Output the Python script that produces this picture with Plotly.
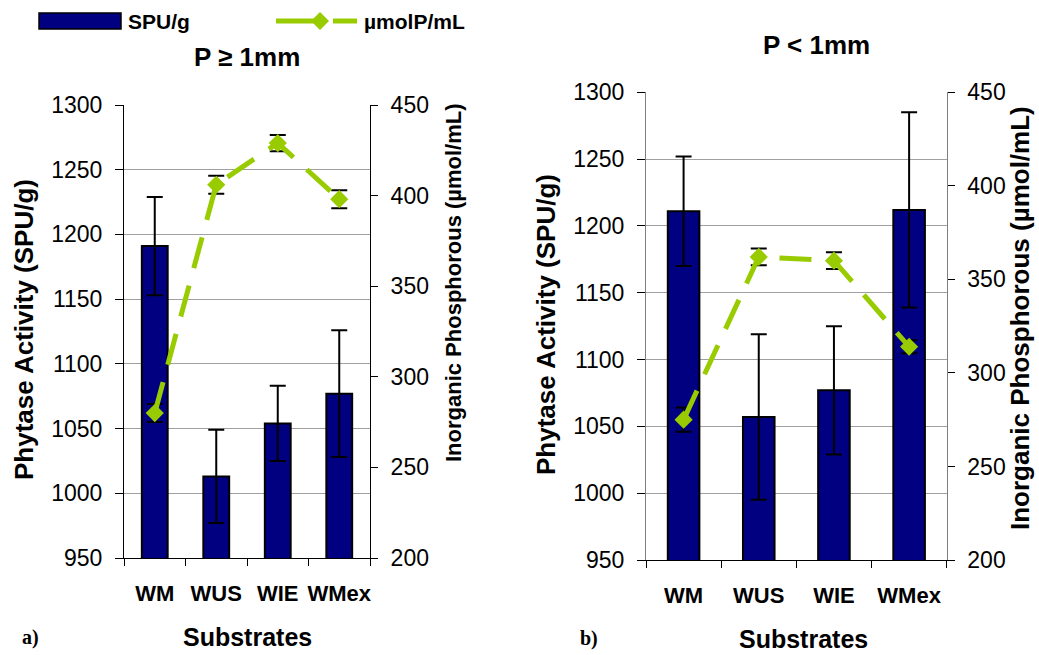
import plotly.graph_objects as go

# ---- data ----
substrates = ["WM", "WUS", "WIE", "WMex"]

# panel a) particle size P >= 1mm
spu_a = [1191, 1013, 1054, 1077]
spu_a_err = [38, 36, 29, 49]
pi_a = [280, 406, 429, 398]
pi_a_err = [5, 5, 4.5, 5]

# panel b) particle size P < 1mm
spu_b = [1211, 1057, 1077, 1212]
spu_b_err = [41, 62, 48, 73]
pi_b = [275, 362, 360, 314]
pi_b_err = [6.5, 4.5, 4.5, 3.5]

spu_ticks = [950, 1000, 1050, 1100, 1150, 1200, 1250, 1300]
pi_ticks = [200, 250, 300, 350, 400, 450]

# ---- styling ----
W, H = 1039, 655
NAVY = "#000080"
GREEN = "#99CC00"
SANS = "Liberation Sans, Arial, sans-serif"
SERIF = "Liberation Serif, Times New Roman, serif"


def px(x):
    return x / W


def py(y):
    return 1 - y / H


fig = go.Figure()


def add_panel(xa, ya, ya2, spu, spu_err, pi, pi_err):
    fig.add_trace(go.Bar(
        x=substrates, y=spu, xaxis=xa, yaxis=ya, width=0.42,
        marker=dict(color=NAVY, line=dict(color="black", width=2)),
        error_y=dict(type="data", array=spu_err, visible=True,
                     color="black", thickness=2, width=8),
        showlegend=False,
    ))
    fig.add_trace(go.Scatter(
        x=substrates, y=pi, xaxis=xa, yaxis=ya2, mode="lines+markers",
        line=dict(color=GREEN, width=5, dash="32px,18px"),
        marker=dict(symbol="diamond", size=14, color=GREEN),
        error_y=dict(type="data", array=pi_err, visible=True,
                     color="black", thickness=2, width=8),
        showlegend=False,
    ))


add_panel("x", "y", "y2", spu_a, spu_a_err, pi_a, pi_a_err)
add_panel("x2", "y3", "y4", spu_b, spu_b_err, pi_b, pi_b_err)

tickfont = dict(family=SANS, size=23, color="black")
xtickfont = dict(family=SANS, size=22, color="black", weight="bold")
bounds = [-0.5, 0.5, 1.5, 2.5, 3.5]


def panel_axes(xdom, ydom, spu_line, pi_line):
    xaxis = dict(domain=xdom, type="category", range=[-0.5, 3.5],
                 tickson="boundaries", ticks="outside", ticklen=7,
                 tickcolor="black", showline=True, linecolor="black",
                 linewidth=1, tickfont=xtickfont, ticklabelstandoff=16,
                 tickangle=0, automargin=False,
                 showgrid=False, zeroline=False, fixedrange=True)
    yaxis = dict(domain=ydom, range=[950, 1300], tickvals=spu_ticks,
                 ticks="outside", ticklen=8, tickcolor="black",
                 showline=True, linecolor=spu_line, linewidth=1,
                 showgrid=True, gridcolor="#a0a0a0", gridwidth=1,
                 zeroline=False, tickfont=tickfont, ticklabelstandoff=8,
                 automargin=False)
    yaxis2 = dict(range=[200, 450], tickvals=pi_ticks, side="right",
                  ticks="outside", ticklen=7, tickcolor="black",
                  showline=True, linecolor=pi_line, linewidth=1,
                  showgrid=False, zeroline=False, tickfont=tickfont,
                  ticklabelstandoff=8, automargin=False)
    return xaxis, yaxis, yaxis2


xa, ya, ya2 = panel_axes([px(124), px(370)], [py(558), py(105)], "black", "black")
xb, yb, yb2 = panel_axes([px(646), px(946.7)], [py(560), py(92.3)], "#7f7f7f", "#7f7f7f")


# inward halves of the crossing tick marks
def inner_x(over, anchor):
    return dict(overlaying=over, anchor=anchor, range=[-0.5, 3.5],
                tickvals=bounds, ticks="inside", ticklen=7,
                tickcolor="black", showticklabels=False, showgrid=False,
                showline=False, zeroline=False, side="bottom",
                automargin=False)


def inner_y(over, anchor, rng, vals, side, length):
    return dict(overlaying=over, anchor=anchor, range=rng, tickvals=vals,
                ticks="inside", ticklen=length, tickcolor="black",
                showticklabels=False, showgrid=False, showline=False,
                zeroline=False, side=side, automargin=False)


fig.update_layout(
    template="none",
    width=W, height=H,
    margin=dict(l=0, r=0, t=0, b=0, autoexpand=False),
    paper_bgcolor="white", plot_bgcolor="white",
    showlegend=False,
    xaxis=dict(**xa, anchor="y"),
    yaxis=dict(**ya, anchor="x"),
    yaxis2=dict(**ya2, anchor="x", overlaying="y"),
    xaxis2=dict(**xb, anchor="y3"),
    yaxis3=dict(**yb, anchor="x2"),
    yaxis4=dict(**yb2, anchor="x2", overlaying="y3"),
    xaxis5=inner_x("x", "y"),
    yaxis5=inner_y("y", "x", [950, 1300], spu_ticks, "left", 8),
    yaxis6=inner_y("y", "x", [200, 450], pi_ticks, "right", 7),
    xaxis6=inner_x("x2", "y3"),
    yaxis7=inner_y("y3", "x2", [950, 1300], spu_ticks, "left", 8),
    yaxis8=inner_y("y3", "x2", [200, 450], pi_ticks, "right", 7),
)

# ---- legend drawn at the top left ----
fig.add_shape(type="rect", xref="paper", yref="paper",
              x0=px(39), x1=px(121), y0=py(29), y1=py(13),
              fillcolor=NAVY, line=dict(color="black", width=1.5))
fig.add_shape(type="line", xref="paper", yref="paper",
              x0=px(276), x1=px(314), y0=py(21), y1=py(21),
              line=dict(color=GREEN, width=5))
fig.add_shape(type="line", xref="paper", yref="paper",
              x0=px(333), x1=px(357), y0=py(21), y1=py(21),
              line=dict(color=GREEN, width=5))
cx, cy, r = 320, 21, 9
fig.add_shape(type="path", xref="paper", yref="paper",
              path=f"M {px(cx)},{py(cy - r)} L {px(cx + r)},{py(cy)} "
                   f"L {px(cx)},{py(cy + r)} L {px(cx - r)},{py(cy)} Z",
              fillcolor=GREEN, line=dict(width=0))


def text(s, x, y, size, xanchor="center", angle=0, family=SANS):
    fig.add_annotation(text=f"<b>{s}</b>", x=px(x), y=py(y),
                       xref="paper", yref="paper", showarrow=False,
                       xanchor=xanchor, yanchor="middle", textangle=angle,
                       font=dict(family=family, size=size, color="black"))


text("SPU/g", 126, 22, 21, xanchor="left")
text("µmolP/mL", 362, 21, 21, xanchor="left")
text("P ≥ 1mm", 247, 57, 26)
text("P < 1mm", 816, 45, 26)
text("Phytase Activity (SPU/g)", 24, 330, 26, angle=-90)
text("Inorganic Phosphorous (µmol/mL)", 453, 283, 22, angle=-90)
text("Phytase Activity (SPU/g)", 546, 325, 26, angle=-90)
text("Inorganic Phosphorous (µmol/mL)", 1020, 318, 26, angle=-90)
text("Substrates", 247, 637, 25)
text("Substrates", 803, 639, 25)
text("a)", 30, 637, 20, family=SERIF)
text("b)", 589, 638, 20, family=SERIF)

fig.write_html("out.html")
